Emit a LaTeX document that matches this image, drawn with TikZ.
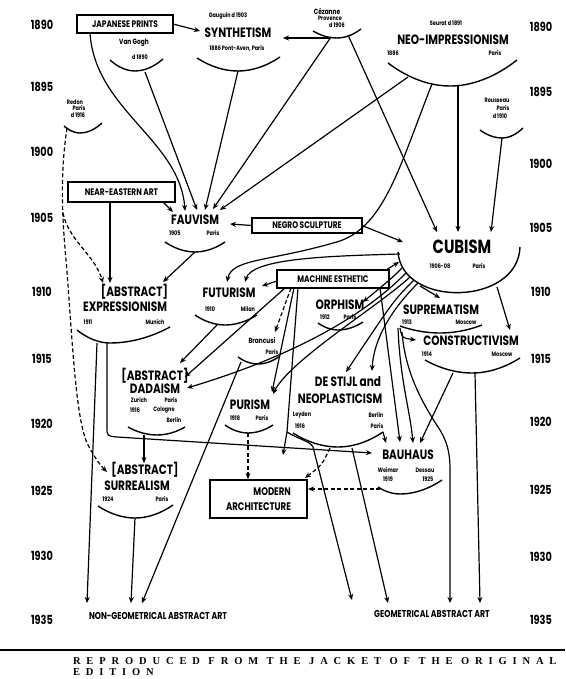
\documentclass[tikz,border=0pt]{standalone}
\usepackage{fontspec}
\setmainfont{Poppins}[FakeStretch=0.78]
\newfontfamily\capfont{Liberation Serif}[LetterSpace=56]
\usetikzlibrary{arrows.meta}
\begin{document}
\begin{tikzpicture}[x=1pt,y=-1pt,
  every node/.style={inner sep=0pt, outer sep=0pt, font=\bfseries},
  L/.style={font=\bfseries\fontsize{13.5}{13.5}\selectfont},
  S/.style={font=\bfseries\fontsize{6.3}{6.3}\selectfont},
  M/.style={font=\bfseries\fontsize{7.5}{7.5}\selectfont},
  Y/.style={font=\bfseries\fontsize{12.5}{12.5}\selectfont},
  bx/.style={draw, line width=1.8pt, font=\bfseries\fontsize{9.5}{9.5}\selectfont},
  arcl/.style={line width=1.4pt},
  ln/.style={line width=1.2pt, -{Stealth[length=6pt,width=5pt]}},
  dl/.style={ln, dash pattern=on 4pt off 2.5pt},
]
\useasboundingbox (0,0) rectangle (565,679);
\fill[white] (0,0) rectangle (565,679);

% years
\foreach \y/\t in {25/1890,87/1895,152/1900,218/1905,292/1910,359/1915,424/1920,491/1925,556/1930,620/1935}
  \node[Y] (yl\t) at (42,\y) {\t};
\foreach \y/\t in {27/1890,92/1895,164/1900,228/1905,292/1910,359/1915,422/1920,490/1925,557/1930,620/1935}
  \node[Y] (yr\t) at (541,\y) {\t};

% boxes
\node[bx, minimum width=96pt, minimum height=18pt] (jap) at (125,24) {JAPANESE PRINTS};
\node[bx, minimum width=107pt, minimum height=20pt] (near) at (121.5,192) {NEAR-EASTERN ART};
\node[bx, minimum width=110pt, minimum height=15pt] (negro) at (307,225.5) {NEGRO SCULPTURE};
\node[bx, minimum width=112pt, minimum height=18pt] (mach) at (333,279) {MACHINE ESTHETIC};
\node[bx, minimum width=97pt, minimum height=38pt, align=right, font=\bfseries\fontsize{11}{15}\selectfont] (modarch) at (258.5,499) {MODERN\\ARCHITECTURE};

% movements
\node[S] (gaug) at (228,16) {Gauguin d 1903};
\node[L] (synth) at (238,33) {SYNTHETISM};
\node[S] (synthd) at (237,48) {1886 Pont-Aven, Paris};
\node[M] (vg) at (134,43) {Van Gogh};
\node[S] (vgd) at (140,57) {d 1890};
\node[M] (cez) at (327,11) {Cézanne};
\node[S] (cezp) at (330,18) {Provence};
\node[S] (cezd) at (337,25) {d 1906};
\node[S] (seur) at (446,23) {Seurat d 1891};
\node[L] (neo) at (453,40) {NEO-IMPRESSIONISM};
\node[S] (neod) at (393,53) {1886};
\node[S] (neop) at (495,53) {Paris};
\node[S] (redon) at (75,102) {Redon};
\node[S] (redonp) at (79,108) {Paris};
\node[S] (redond) at (78,115) {d 1916};
\node[S] (rouss) at (497,100) {Rousseau};
\node[S] (roussp) at (503,108) {Paris};
\node[S] (roussd) at (500,116) {d 1910};
\node[L] (fauv) at (195,220) {FAUVISM};
\node[S] (fauvd) at (175,233) {1905};
\node[S] (fauvp) at (213,233) {Paris};
\node[font=\bfseries\fontsize{19}{19}\selectfont] (cub) at (462,247) {CUBISM};
\node[S] (cubd) at (440,266) {1906-08};
\node[S] (cubp) at (479,266) {Paris};
\node[L] (fut) at (229,293) {FUTURISM};
\node[S] (futd) at (210,309) {1910};
\node[S] (futp) at (248,309) {Milan};
\node[L, anchor=east] (expra) at (168,292) {[ABSTRACT]};
\node[L] (expr) at (125,307) {EXPRESSIONISM};
\node[S] (exprd) at (88,322) {1911};
\node[S] (exprp) at (155,322) {Munich};
\node[L] (orph) at (340,305) {ORPHISM};
\node[S] (orphd) at (325,317) {1912};
\node[S] (orphp) at (350,317) {Paris};
\node[L] (supr) at (441,310) {SUPREMATISM};
\node[S] (suprd) at (407,322) {1913};
\node[S] (suprp) at (466,322) {Moscow};
\node[L] (constr) at (471,341) {CONSTRUCTIVISM};
\node[S] (constrd) at (427,354) {1914};
\node[S] (constrp) at (502,354) {Moscow};
\node[M] (branc) at (262,341) {Brancusi};
\node[S] (brancp) at (272,352) {Paris};
\node[L] (dadaa) at (155,376) {[ABSTRACT]};
\node[L] (dada) at (155,389) {DADAISM};
\node[S] (dadaz) at (139,400) {Zurich};
\node[S] (dadap) at (171,400) {Paris};
\node[S] (dadad) at (135,410) {1916};
\node[S] (dadac) at (164,410) {Cologne};
\node[S] (dadab) at (174,420) {Berlin};
\node[L] (purism) at (250,405) {PURISM};
\node[S] (purismd) at (235,418) {1918};
\node[S] (purismp) at (262,418) {Paris};
\node[L] (destijla) at (348,382) {DE STIJL and};
\node[L] (destijl) at (340,399) {NEOPLASTICISM};
\node[S] (destijll) at (302,415) {Leyden};
\node[S] (destijld) at (300,426) {1916};
\node[S] (destijlb) at (376,415) {Berlin};
\node[S] (destijlp) at (377,426) {Paris};
\node[L] (bauh) at (408,455) {BAUHAUS};
\node[S] (bauhw) at (388,470) {Weimar};
\node[S] (bauhs) at (425,470) {Dessau};
\node[S] (bauhd) at (388,479) {1919};
\node[S] (bauhe) at (428,479) {1925};
\node[L] (surra) at (145,470) {[ABSTRACT]};
\node[L] (surr) at (137,486) {SURREALISM};
\node[S] (surrd) at (108,499) {1924};
\node[S] (surrp) at (162,499) {Paris};
\node[font=\bfseries\fontsize{10}{10}\selectfont] (nongeo) at (158,616) {NON-GEOMETRICAL ABSTRACT ART};
\node[font=\bfseries\fontsize{10}{10}\selectfont] (geo) at (432,614) {GEOMETRICAL ABSTRACT ART};

% arcs
\draw[arcl] (110,60) parabola bend (135,71) (163,59);
\draw[arcl] (197,58) parabola bend (238,71) (280,57);
\draw[arcl] (313,31) parabola bend (337,38) (361,29);
\draw[arcl] (388,63) parabola bend (450,86) (517,60);
\draw[arcl] (64,126) parabola bend (80,133) (102,123);
\draw[arcl] (480,130) parabola bend (502,138) (523,128);
\draw[arcl] (165,242) parabola bend (195,252) (225,242);
\draw[arcl] (398,252) .. controls (402,308) and (518,306) .. (520,247);
\draw[arcl] (195,315) parabola bend (225,325) (257,315);
\draw[arcl] (77,330) parabola bend (110,343) (170,327);
\draw[arcl] (318,323) parabola bend (338,330) (363,322);
\draw[arcl] (400,326) parabola bend (440,333) (482,325);
\draw[arcl] (425,360) parabola bend (472,373) (520,358);
\draw[arcl] (238,357) parabola bend (258,364) (280,356);
\draw[arcl] (128,427) parabola bend (157,435) (185,427);
\draw[arcl] (225,425) parabola bend (248,433) (273,425);
\draw[arcl] (293,433) parabola bend (338,447) (383,432);
\draw[arcl] (378,487) parabola bend (400,494) (442,480);
\draw[arcl] (98,506) parabola bend (135,518) (173,505);

% attachment coordinates
\coordinate (vgB) at (145,72);
\coordinate (syB) at (238,71);
\coordinate (czA) at (331,37);
\coordinate (czB) at (348,35);
\coordinate (czL) at (330,38);
\coordinate (syR) at (283,38);
\coordinate (neA) at (408,77);
\coordinate (neB) at (432,84);
\coordinate (neC) at (458,85);
\coordinate (roB) at (502,138);
\coordinate (fvIn1) at (185,211);
\coordinate (fvIn2) at (197,210);
\coordinate (fvIn3) at (205,210);
\coordinate (fvIn4) at (213,209);
\coordinate (fvIn5) at (220,210);
\coordinate (fvIn6) at (173,212);
\coordinate (fvB) at (195,252);
\coordinate (cuIn1) at (437,232);
\coordinate (cuIn2) at (458,232);
\coordinate (cuIn3) at (491,232);
\coordinate (cuIn4) at (403,242);
\coordinate (cuL) at (400,254);
\coordinate (cuR) at (497,287);
\coordinate (cuS) at (420,286);
\coordinate (futIn1) at (227,282);
\coordinate (futIn2) at (245,282);
\coordinate (futIn3) at (262,286);
\coordinate (futB) at (217,325);
\coordinate (exIn1) at (103,283);
\coordinate (exIn2) at (110,283);
\coordinate (exIn3) at (163,282);
\coordinate (exB1) at (97,343);
\coordinate (exB2) at (107,343);
\coordinate (rdB) at (67,128);
\coordinate (rdS) at (63,213);
\coordinate (suIn) at (107,472);

% connectors
\draw[ln] (jap.east) -- (200,31);
\draw[ln] (jap.south west) ++(13,0) .. controls (95,110) and (180,140) .. (fvIn1);
\draw[ln] (vgB) -- (fvIn2);
\draw[ln] (syB) -- (fvIn3);
\draw[ln] (czA) -- (fvIn4);
\draw[ln] (czB) -- (cuIn1);
\draw[ln] (czL) -- (syR);
\draw[ln] (neA) -- (fvIn5);
\draw[ln] (neB) .. controls (400,165) and (385,225) .. (340,241) .. controls (270,262) and (232,258) .. (futIn1);
\draw[ln] (neC) -- (cuIn2);
\draw[ln] (roB) -- (cuIn3);
\draw[ln] (negro.west) -- (230,224);
\draw[ln] (negro.east) -- (cuIn4);
\draw[ln] (163,202) -- (fvIn6);
\draw[ln] (near.south west) ++(42,0) -- (exIn2);
\draw[ln] (fvB) -- (exIn3);
\draw[ln] (cuL) .. controls (330,256) and (252,258) .. (futIn2);
\draw[ln] (mach.west) ++(0,2) -- (futIn3);
\draw[ln] (mach.north east) ++(-3,0) -- (399,262);
% Redon dashed
\draw[dl] (rdB) .. controls (60,175) and (62,215) .. (66,260) .. controls (72,330) and (75,420) .. (88,445) .. controls (95,458) and (100,465) .. (suIn);
\draw[dl] (rdS) .. controls (68,240) and (95,255) .. (exIn1);
% expressionism
\draw[ln] (exB1) -- (87,603);
\draw[ln] (exB2) -- (107,427) .. controls (107,436) .. (117,437) -- (372,453);
\draw[ln] (135,518) -- (131,603);
\draw[ln] (241,362) -- (142,603);
\draw[ln] (futB) -- (180,363);
\draw[ln] (285,288) -- (185,377);
% cubism bundle
\draw[ln] (402,268) .. controls (392,278) .. (363,302);
\draw[ln] (406,273) .. controls (385,294) and (330,345) .. (187,388);
\draw[ln] (410,277) .. controls (380,305) and (290,360) .. (273,394);
\draw[ln] (414,280) .. controls (394,300) .. (346,372);
\draw[ln] (418,283) .. controls (396,305) and (374,335) .. (372,371);
\draw[ln] (cuS) -- (440,298);
\draw[ln] (cuR) -- (510,330);
\draw[ln] (400,328) .. controls (402,338) .. (416,340);
% machine
\draw[dl] (291,288) -- (275,332);
\draw[ln] (294,288) -- (272,392);
\draw[ln] (298,288) -- (287,432) -- (283,455);
\draw[ln] (287,432) .. controls (300,440) and (310,441) .. (313,447) -- (352,600);
\draw[ln] (380,288) -- (400,442);
% de stijl etc
\draw[ln] (352,448) -- (388,603);
\draw[dl] (330,448) .. controls (322,465) .. (305,478);
\draw[ln] (383,432) -- (386,443);
\draw[dl] (248,433) -- (248,479);
\draw[dl] (380,489) -- (308,489);
\draw[ln] (144,435) -- (144,463);
\draw[ln] (398,328) .. controls (400,380) and (410,410) .. (413,443);
\draw[ln] (402,332) .. controls (405,370) and (420,400) .. (440,430) .. controls (447,442) and (450,452) .. (450,470) -- (450,603);
\draw[ln] (453,373) -- (420,443);
\draw[ln] (475,373) -- (480,603);

% rule and caption
\draw[line width=1.5pt] (0,650) -- (565,650);
\node[anchor=west, font=\capfont\bfseries\fontsize{10.5}{10.5}\selectfont] (cap1) at (73,661) {REPRODUCED FROM THE JACKET OF THE ORIGINAL};
\node[anchor=west, font=\capfont\bfseries\fontsize{10.5}{10.5}\selectfont] (cap2) at (73,672.5) {EDITION};
\end{tikzpicture}
\end{document}
